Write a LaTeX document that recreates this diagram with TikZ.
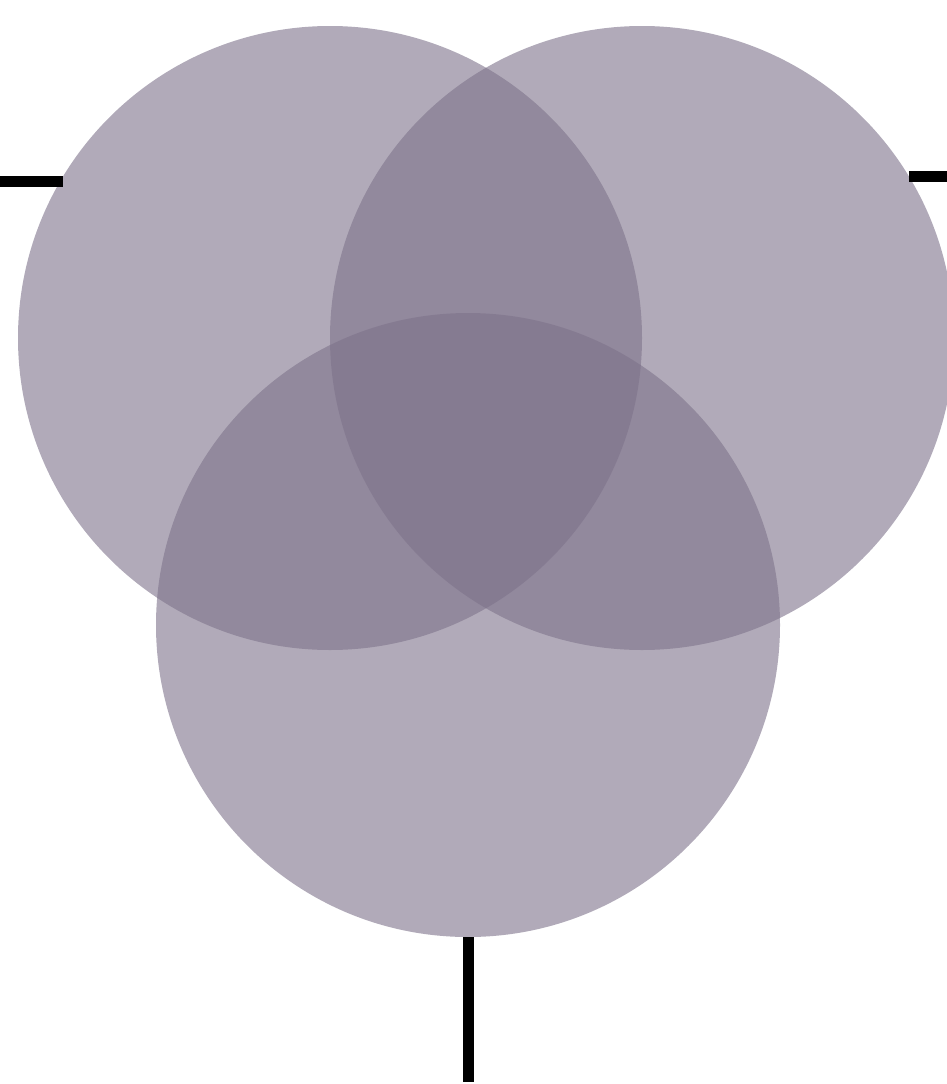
\documentclass[tikz,border=0pt]{standalone}
\definecolor{venn}{RGB}{125,114,138}
\begin{document}
\begin{tikzpicture}[x=1pt,y=-1pt,
  vcircle/.style={circle,minimum size=624pt,inner sep=0pt,outer sep=0pt,fill=venn,fill opacity=0.6,draw=none},
  tick/.style={line width=11pt,black}]
\useasboundingbox (0,0) rectangle (947,1084);
\node[vcircle] (L) at (330,338) {};
\node[vcircle] (R) at (642,338) {};
\node[vcircle] (B) at (468,625) {};
\coordinate (le) at (0,181);
\coordinate (re) at (947,176);
\coordinate (be) at (468,1082);
\draw[tick] (le) -- (le -| L.149.8);
\draw[tick] (re) -- (re -| R.31.2);
\draw[tick] (B.south) -- (be);
\end{tikzpicture}
\end{document}
